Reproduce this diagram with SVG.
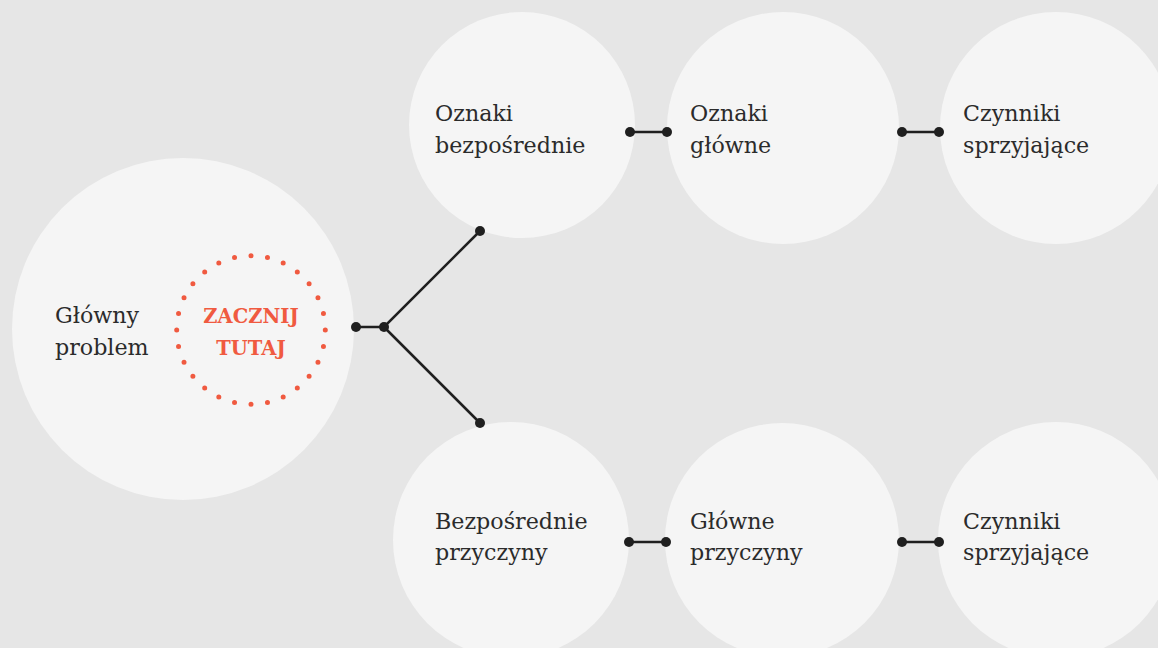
<svg xmlns="http://www.w3.org/2000/svg" width="1158" height="648" viewBox="0 0 1158 648">
  <style>
    .node { fill: #f5f5f5; }
    .label { font-family: "DejaVu Serif", "Liberation Serif", serif; font-size: 22.2px; fill: #2b2b2b; }
    .start { font-family: "DejaVu Serif", "Liberation Serif", serif; font-size: 19.5px; font-weight: bold; fill: #f05a40; text-anchor: middle; }
    .link { stroke: #1f1f1f; stroke-width: 2.5; fill: none; }
    .dot { fill: #1f1f1f; }
  </style>
  <rect width="1158" height="648" fill="#e6e6e6"/>

  <g id="main-problem">
    <circle class="node" cx="183" cy="329" r="171"/>
    <text class="label" x="55" y="323">Główny</text>
    <text class="label" x="55" y="355">problem</text>
    <circle cx="251" cy="330" r="74.3" fill="none" stroke="#f05a40" stroke-width="5" stroke-linecap="round" pathLength="28" stroke-dasharray="0 1"/>
    <text class="start" x="251" y="323">ZACZNIJ</text>
    <text class="start" x="251" y="355">TUTAJ</text>
  </g>

  <g id="direct-signs">
    <circle class="node" cx="522" cy="125" r="113"/>
    <text class="label" x="435" y="121">Oznaki</text>
    <text class="label" x="435" y="153">bezpośrednie</text>
  </g>
  <g id="main-signs">
    <circle class="node" cx="783" cy="128" r="116"/>
    <text class="label" x="690" y="121">Oznaki</text>
    <text class="label" x="690" y="153">główne</text>
  </g>
  <g id="signs-factors">
    <circle class="node" cx="1056" cy="128" r="116"/>
    <text class="label" x="963" y="121">Czynniki</text>
    <text class="label" x="963" y="153">sprzyjające</text>
  </g>

  <g id="direct-causes">
    <circle class="node" cx="511" cy="540" r="118"/>
    <text class="label" x="435" y="529">Bezpośrednie</text>
    <text class="label" x="435" y="560">przyczyny</text>
  </g>
  <g id="main-causes">
    <circle class="node" cx="782" cy="540" r="117"/>
    <text class="label" x="690" y="529">Główne</text>
    <text class="label" x="690" y="560">przyczyny</text>
  </g>
  <g id="causes-factors">
    <circle class="node" cx="1056" cy="540" r="118"/>
    <text class="label" x="963" y="529">Czynniki</text>
    <text class="label" x="963" y="560">sprzyjające</text>
  </g>

  <g id="connectors">
    <path class="link" d="M356 327 H384 L480 231 M384 327 L480 423"/>
    <path class="link" d="M630 132 H667 M902 132 H939 M629 542 H666 M902 542 H939"/>
    <circle class="dot" cx="356" cy="327" r="5"/>
    <circle class="dot" cx="384" cy="327" r="5"/>
    <circle class="dot" cx="480" cy="231" r="5"/>
    <circle class="dot" cx="480" cy="423" r="5"/>
    <circle class="dot" cx="630" cy="132" r="5"/>
    <circle class="dot" cx="667" cy="132" r="5"/>
    <circle class="dot" cx="902" cy="132" r="5"/>
    <circle class="dot" cx="939" cy="132" r="5"/>
    <circle class="dot" cx="629" cy="542" r="5"/>
    <circle class="dot" cx="666" cy="542" r="5"/>
    <circle class="dot" cx="902" cy="542" r="5"/>
    <circle class="dot" cx="939" cy="542" r="5"/>
  </g>
</svg>
